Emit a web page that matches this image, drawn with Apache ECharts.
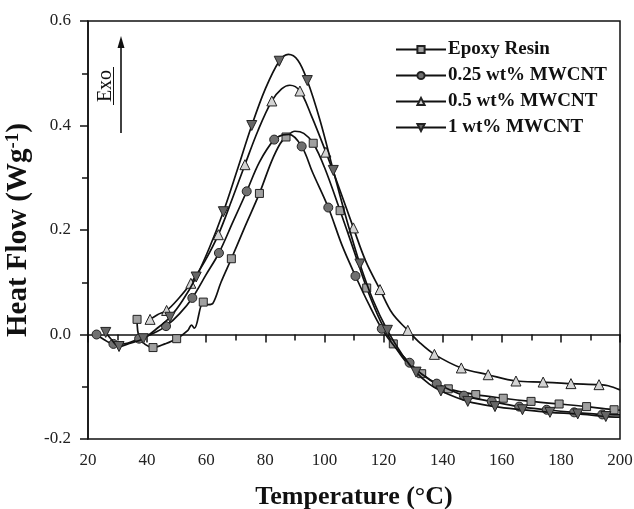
<!DOCTYPE html>
<html><head><meta charset="utf-8">
<script src="https://cdn.jsdelivr.net/npm/echarts@6/dist/echarts.min.js"></script>
<style>html,body{margin:0;padding:0;background:#fff}#c{width:634px;height:509px}</style>
</head><body><div id="c"></div>
<script>
// Series names
const seriesNames = ['Epoxy Resin', '0.25 wt% MWCNT', '0.5 wt% MWCNT', '1 wt% MWCNT'];
// axis tick values
const xTicks = [20, 40, 60, 80, 100, 120, 140, 160, 180, 200];
const yTicks = [-0.2, 0.0, 0.2, 0.4, 0.6];

// Curve path points [T, HF]
const epoxyCurve = [[37.4,-0.006],[46,-0.018],[53.8,0.008],[55,0.018],[56,0.012],[60.7,0.057],[62.3,0.06],[65,0.1],[73,0.205],[82,0.33],[85,0.365],[90,0.389],[93,0.385],[100,0.32],[110,0.16],[119,0.025],[128,-0.055],[137,-0.092],[200,-0.145]];
const epoxyMarks = [[36.6,0.029],[42,-0.025],[50,-0.008],[59,0.062],[68.5,0.145],[78,0.27],[87,0.378],[96.2,0.366],[105.3,0.237],[114.3,0.089],[123.3,-0.018],[132.9,-0.075],[141.9,-0.104],[151.2,-0.115],[160.5,-0.122],[169.9,-0.128],[179.4,-0.133],[188.7,-0.138],[198,-0.144]];

const mw025Curve = [[25.5,-0.01],[32,-0.018],[42,0.002],[51,0.04],[60,0.115],[69,0.215],[78,0.33],[86,0.382],[88,0.383],[96,0.31],[106,0.17],[115,0.058],[124,-0.025],[133,-0.076],[200,-0.154]];
const mw025Marks = [[22.9,0.0],[28.6,-0.018],[37.3,-0.008],[46.4,0.016],[55.3,0.07],[64.3,0.156],[73.7,0.274],[83,0.373],[92.3,0.36],[101.3,0.243],[110.5,0.112],[119.4,0.011],[128.8,-0.054],[138,-0.094],[147.2,-0.117],[156.6,-0.128],[165.9,-0.138],[175.2,-0.144],[184.5,-0.149],[194,-0.153]];

const mw05Curve = [[43.5,0.038],[50.5,0.068],[59.5,0.14],[68.5,0.255],[77.5,0.39],[85.5,0.47],[88.3,0.477],[95.5,0.42],[105,0.28],[114,0.14],[123,0.04],[132.5,-0.017],[196,-0.098],[200,-0.106]];
const mw05Marks = [[41,0.029],[46.6,0.046],[54.8,0.098],[64.1,0.191],[73.1,0.325],[82.2,0.447],[91.7,0.466],[100.5,0.349],[109.8,0.204],[118.8,0.086],[128.2,0.008],[137.2,-0.038],[146.3,-0.064],[155.4,-0.077],[164.8,-0.089],[174,-0.091],[183.4,-0.094],[192.9,-0.096]];

const mw1Curve = [[28,-0.01],[34,-0.017],[43,0.01],[52,0.065],[61,0.165],[70.5,0.315],[80,0.47],[87.8,0.536],[91,0.525],[98.5,0.41],[107.5,0.22],[116.5,0.065],[126.5,-0.04],[135.5,-0.095],[200,-0.158]];
const mw1Marks = [[26,0.004],[30.5,-0.023],[38.7,-0.008],[47.7,0.033],[56.6,0.11],[65.8,0.235],[75.4,0.40],[84.7,0.523],[94.2,0.486],[103,0.314],[112,0.135],[121.3,0.008],[131,-0.072],[139.4,-0.108],[148.5,-0.128],[157.7,-0.138],[167,-0.144],[176.3,-0.149],[185.7,-0.152],[195.2,-0.157]];

const curves = [epoxyCurve, mw025Curve, mw05Curve, mw1Curve];
const marks = [epoxyMarks, mw025Marks, mw05Marks, mw1Marks];
const symbols = ['rect', 'circle', 'triangle', 'path://M0,0 L10,0 L5,9 Z'];
const fills = ['#a0a0a0', '#707070', '#d4d4d4', '#666666'];
const sizes = [8, 9, 10, 10];

function build(i) {
  const pts = curves[i].map(p => ({value: p, symbol: 'none'}))
    .concat(marks[i].map(p => ({value: p})));
  pts.sort((a, b) => a.value[0] - b.value[0]);
  return {
    name: seriesNames[i],
    type: 'line',
    smooth: 0.35,
    data: pts,
    symbol: symbols[i],
    symbolSize: sizes[i],
    showAllSymbol: true,
    lineStyle: {color: '#111', width: 1.7},
    itemStyle: {color: fills[i], borderColor: '#222', borderWidth: 1},
    emphasis: {disabled: true},
    z: 2 + i
  };
}

const font = '"Liberation Serif", "Times New Roman", serif';
const chart = echarts.init(document.getElementById('c'), null, {renderer: 'canvas'});
chart.setOption({
  animation: false,
  backgroundColor: '#fff',
  grid: {left: 88, right: 14, top: 21, bottom: 70, containLabel: false, outerBoundsMode: 'none',
         show: true, borderColor: '#111', borderWidth: 1.5, backgroundColor: 'transparent'},
  xAxis: {
    type: 'value', min: xTicks[0], max: xTicks[xTicks.length-1], interval: 20,
    name: 'Temperature (°C)', nameLocation: 'middle', nameGap: 45,
    nameTextStyle: {fontFamily: font, fontWeight: 'bold', fontSize: 26, color: '#111'},
    axisLine: {lineStyle: {color: '#111', width: 1.5}},
    axisTick: {inside: false, length: 8, lineStyle: {color: '#111', width: 1.5}},
    minorTick: {show: true, splitNumber: 2, length: 6, lineStyle: {color: '#111', width: 1.5}},
    splitLine: {show: false},
    axisLabel: {fontFamily: font, fontSize: 17, color: '#222', margin: 13}
  },
  yAxis: {
    type: 'value', min: yTicks[0], max: yTicks[yTicks.length-1], interval: 0.2,
    name: '{n|Heat Flow (Wg}{s|-1}{n|)}', nameLocation: 'middle', nameGap: 49,
    nameTextStyle: {rich: {
      n: {fontFamily: font, fontWeight: 'bold', fontSize: 29, color: '#111'},
      s: {fontFamily: font, fontWeight: 'bold', fontSize: 19, color: '#111', verticalAlign: 'top', padding: [0,0,12,0]}
    }},
    axisLine: {lineStyle: {color: '#111', width: 1.5}},
    axisTick: {inside: false, length: 8, lineStyle: {color: '#111', width: 1.5}},
    minorTick: {show: true, splitNumber: 2, length: 6, lineStyle: {color: '#111', width: 1.5}},
    splitLine: {show: false},
    axisLabel: {fontFamily: font, fontSize: 17, color: '#222', margin: 17, formatter: v => v.toFixed(1)}
  },
  legend: {
    orient: 'vertical', left: 390, top: 35, itemWidth: 50, itemHeight: 9, itemGap: 7,
    data: seriesNames,
    textStyle: {fontFamily: font, fontWeight: 'bold', fontSize: 19, color: '#111', padding: [0,0,0,-3]},
    selectedMode: false
  },
  graphic: [
    {type: 'line', shape: {x1: 121, y1: 133, x2: 121, y2: 44}, style: {stroke: '#111', lineWidth: 1.6}},
    {type: 'polygon', shape: {points: [[121, 36], [117.5, 48], [124.5, 48]]}, style: {fill: '#111'}},
    {type: 'text', x: 106, y: 86, rotation: Math.PI/2, style: {text: 'Exo', font: '20px "Liberation Serif", serif', fill: '#111', align: 'center', verticalAlign: 'middle'}},
    {type: 'line', shape: {x1: 113.5, y1: 67, x2: 113.5, y2: 105}, style: {stroke: '#111', lineWidth: 1}}
  ],
  series: [0,1,2,3].map(build)
});
</script></body></html>
